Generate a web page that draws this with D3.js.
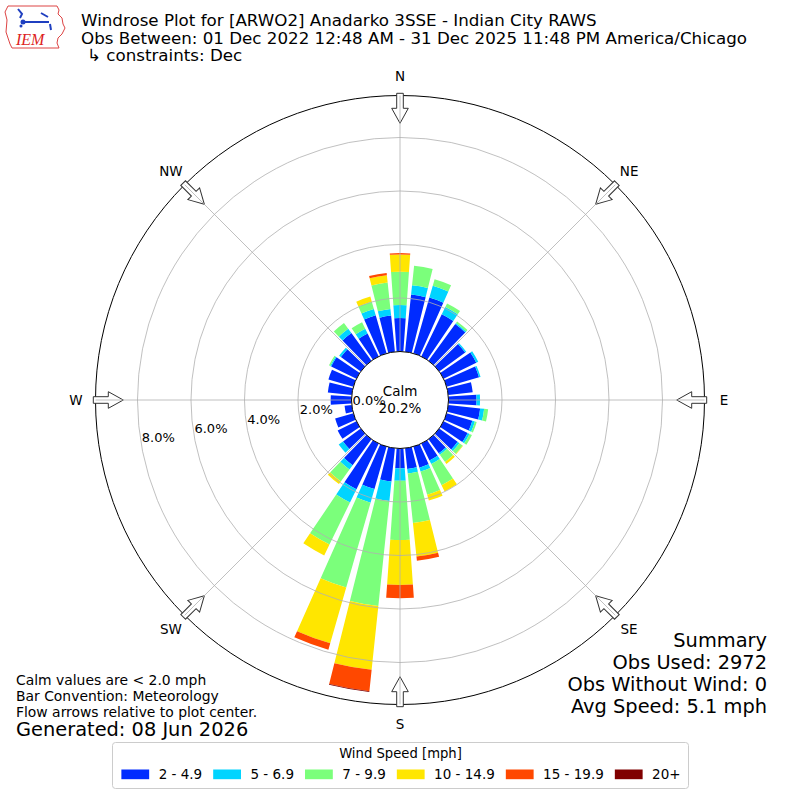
<!DOCTYPE html>
<html lang="en">
<head>
<meta charset="utf-8">
<title>Windrose ARWO2</title>
<script src="https://cdn.jsdelivr.net/npm/d3@7"></script>
<style>
  body { margin: 0; background: #fff; }
  svg { font-family: "DejaVu Sans", sans-serif; }
</style>
</head>
<body>
<script>
// direction bins (degrees, met convention) and speed bins
var directions = [0,10,20,30,40,50,60,70,80,90,100,110,120,130,140,150,160,170,
                  180,190,200,210,220,230,240,250,260,270,280,290,300,310,320,330,340,350];
var speedLabels = ["2 - 4.9", "5 - 6.9", "7 - 9.9", "10 - 14.9", "15 - 19.9", "20+"];
var speedColors = ["#002bff", "#00d4ff", "#7bff7b", "#ffe600", "#ff4800", "#800000"];

// percent of obs per direction, one array per speed bin
var pct2to5   = [1.25,2.15,2.17,1.75,1.70,1.20,1.36,1.26,0.92,1.05,1.20,1.00,1.00,0.85,0.65,0.70,0.82,0.78,
                 0.74,1.25,1.65,1.90,1.20,0.82,0.78,0.71,0.27,0.78,0.90,0.97,1.05,0.92,1.28,0.95,1.48,1.36];
var pct5to7   = [0.49,0.35,0.46,0.30,0.05,0.05,0.08,0.06,0.00,0.13,0.15,0.10,0.08,0.08,0.07,0.15,0.15,0.17,
                 0.47,0.73,0.53,0.55,0.20,0.20,0.00,0.00,0.00,0.00,0.00,0.00,0.04,0.08,0.20,0.20,0.25,0.25];
var pct7to10  = [1.24,0.73,0.25,0.15,0.07,0.00,0.00,0.00,0.00,0.00,0.15,0.07,0.10,0.15,0.33,0.88,0.90,1.86,
                 2.21,3.95,3.30,1.75,0.55,0.00,0.00,0.00,0.00,0.00,0.00,0.00,0.05,0.00,0.27,0.27,0.28,0.99];
var pct10to15 = [0.65,0,0,0,0,0,0,0,0,0,0,0,0,0.02,0.09,0.26,0.23,1.26,
                 1.68,2.40,2.17,0.45,0.12,0,0,0,0,0,0,0,0,0,0,0,0.20,0.28];
var pct15to20 = [0.05,0,0,0,0,0,0,0,0,0,0,0,0,0,0,0,0,0.16,
                 0.50,0.80,0.25,0,0,0,0,0,0,0,0,0,0,0,0,0,0,0.08];
var pct20up   = [0,0,0,0,0,0,0,0,0,0,0,0,0,0,0,0,0,0,
                 0,0.03,0,0,0,0,0,0,0,0,0,0,0,0,0,0,0,0];

var ringTicks = [0, 2, 4, 6, 8];
var compass = ["N", "NE", "E", "SE", "S", "SW", "W", "NW"];
var calmPct = "20.2%";

var width = 800, height = 800, cx = 400, cy = 400;
var rad = Math.PI / 180;

var svg = d3.select("body").append("svg")
  .attr("width", width).attr("height", height);

// radial scale, 0% sits on the calm circle
var r = d3.scaleLinear().domain([0, 9.57]).range([48.5, 304.5]);

// stack the speed bins per direction
var keys = ["b0","b1","b2","b3","b4","b5"];
var series = [pct2to5, pct5to7, pct7to10, pct10to15, pct15to20, pct20up];
var rows = directions.map(function(d, i) {
  var o = { dir: d };
  keys.forEach(function(k, j) { o[k] = series[j][i]; });
  return o;
});
var stacked = d3.stack().keys(keys)(rows);

var halfW = 4 * rad;
var arc = d3.arc()
  .innerRadius(function(d) { return r(d[0]); })
  .outerRadius(function(d) { return r(d[1]); })
  .startAngle(function(d) { return d.data.dir * rad - halfW; })
  .endAngle(function(d) { return d.data.dir * rad + halfW; });

var plot = svg.append("g").attr("transform", "translate(" + cx + "," + cy + ")");

plot.append("g").attr("class", "bars")
  .selectAll("g")
  .data(stacked)
  .enter().append("g")
  .attr("fill", function(d, i) { return speedColors[i]; })
  .selectAll("path")
  .data(function(d) { return d.filter(function(s) { return s[1] - s[0] > 0; }); })
  .enter().append("path")
  .attr("d", arc);

// rings
plot.append("g").selectAll("circle")
  .data(ringTicks.slice(1))
  .enter().append("circle")
  .attr("r", function(d) { return r(d); })
  .attr("fill", "none")
  .attr("stroke", "#b0b0b0")
  .attr("stroke-width", 0.8);

// outer frame
plot.append("circle")
  .attr("r", r(9.57))
  .attr("fill", "none")
  .attr("stroke", "#000")
  .attr("stroke-width", 1);

// flow arrows pointing to the center
var R0 = 306.7, R1 = 291.7, R2 = 276.7;
var arrowPts = [[-3.3,-R0],[3.3,-R0],[3.3,-R1],[8.3,-R1],[0,-R2],[-8.3,-R1],[-3.3,-R1]];
plot.append("g").selectAll("polygon")
  .data(compass)
  .enter().append("polygon")
  .attr("points", arrowPts.map(function(p) { return p.join(","); }).join(" "))
  .attr("transform", function(d, i) { return "rotate(" + (i * 45) + ")"; })
  .attr("fill", "#fff")
  .attr("stroke", "#333")
  .attr("stroke-width", 1);

// radial grid lines
plot.append("g").selectAll("line")
  .data(compass)
  .enter().append("line")
  .attr("x1", 0).attr("y1", 0)
  .attr("x2", function(d, i) { return r(9.57) * Math.sin(i * 45 * rad); })
  .attr("y2", function(d, i) { return -r(9.57) * Math.cos(i * 45 * rad); })
  .attr("stroke", "#b0b0b0")
  .attr("stroke-width", 0.8);

// calm circle
plot.append("circle")
  .attr("r", r(0))
  .attr("fill", "#fff")
  .attr("stroke", "#000")
  .attr("stroke-width", 1);

plot.append("text").attr("x", 0).attr("y", -4)
  .attr("text-anchor", "middle").attr("font-size", 13.5).text("Calm");
plot.append("text").attr("x", 0).attr("y", 12.5)
  .attr("text-anchor", "middle").attr("font-size", 13.5).text(calmPct);

// percent labels along the 260 deg ray
var la = 260 * rad;
plot.append("g").selectAll("text")
  .data(ringTicks)
  .enter().append("text")
  .attr("x", function(d) { return r(d) * Math.sin(la) + 16.8; })
  .attr("y", function(d) { return -r(d) * Math.cos(la) - 7.9; })
  .attr("dy", "0.35em")
  .attr("text-anchor", "middle")
  .attr("font-size", 13)
  .text(function(d) { return d.toFixed(1) + "%"; });

// compass labels
plot.append("g").selectAll("text")
  .data(compass)
  .enter().append("text")
  .attr("x", function(d, i) { return 324 * Math.sin(i * 45 * rad); })
  .attr("y", function(d, i) { return -324 * Math.cos(i * 45 * rad); })
  .attr("dy", "0.35em")
  .attr("text-anchor", "middle")
  .attr("font-size", 13.5)
  .text(function(d) { return d; });

// title block
var title = svg.append("g").attr("font-size", 16.7);
title.append("text").attr("x", 81).attr("y", 26)
  .text("Windrose Plot for [ARWO2] Anadarko 3SSE - Indian City RAWS");
title.append("text").attr("x", 81).attr("y", 44)
  .text("Obs Between: 01 Dec 2022 12:48 AM - 31 Dec 2025 11:48 PM America/Chicago");
title.append("text").attr("x", 87).attr("y", 61)
  .text("\u21b3 constraints: Dec");

// IEM logo (rough)
var logo = svg.append("g");
logo.append("path")
  .attr("d", "M8,6 L57,6 L59,10 L58,14 L62,18 L63,24 L65,28 L62,34 L58,38 L57,43 L59,48 L12,48 L10,44 L8,38 L6,32 L7,20 L5,12 Z")
  .attr("fill", "none").attr("stroke", "#d44").attr("stroke-width", 1);
logo.append("path")
  .attr("d", "M18,9 L22,14 L20,18 M25,22 L49,22 M41,13 L48,17 M50,24 L51,30")
  .attr("fill", "none").attr("stroke", "#1f3fc0").attr("stroke-width", 2);
logo.append("circle").attr("cx", 23).attr("cy", 22).attr("r", 2.5).attr("fill", "#1f3fc0");
logo.append("circle").attr("cx", 21).attr("cy", 26).attr("r", 1.5).attr("fill", "#1f3fc0");
logo.append("text").attr("x", 16).attr("y", 45)
  .attr("font-family", "'Liberation Serif', serif").attr("font-style", "italic")
  .attr("font-size", 16).attr("fill", "#d22").text("IEM");

// notes bottom left
var notes = svg.append("g").attr("font-size", 13.9);
notes.append("text").attr("x", 16).attr("y", 685).text("Calm values are < 2.0 mph");
notes.append("text").attr("x", 16).attr("y", 701).text("Bar Convention: Meteorology");
notes.append("text").attr("x", 16).attr("y", 717).text("Flow arrows relative to plot center.");
svg.append("text").attr("x", 16).attr("y", 736).attr("font-size", 19.4)
  .text("Generated: 08 Jun 2026");

// summary bottom right
var summary = ["Summary", "Obs Used: 2972", "Obs Without Wind: 0", "Avg Speed: 5.1 mph"];
svg.append("g").selectAll("text")
  .data(summary)
  .enter().append("text")
  .attr("x", 767)
  .attr("y", function(d, i) { return 647 + i * 22; })
  .attr("text-anchor", "end")
  .attr("font-size", 19.4)
  .text(function(d) { return d; });

// legend
var leg = svg.append("g");
leg.append("rect")
  .attr("x", 112.5).attr("y", 742.5).attr("width", 576).attr("height", 46)
  .attr("rx", 3).attr("fill", "#fff").attr("stroke", "#ccc");
leg.append("text").attr("x", 400.5).attr("y", 758)
  .attr("text-anchor", "middle").attr("font-size", 13.2).text("Wind Speed [mph]");

var items = leg.append("g");
var xpos = 0;
speedLabels.forEach(function(lab, i) {
  items.append("rect").attr("x", xpos).attr("y", 769.5)
    .attr("width", 27.8).attr("height", 9.7).attr("fill", speedColors[i]);
  var t = items.append("text").attr("x", xpos + 37.3).attr("y", 779)
    .attr("font-size", 13.5).text(lab);
  xpos = xpos + 37.3 + t.node().getComputedTextLength() + 11;
});
var total = xpos - 11;
items.attr("transform", "translate(" + (401 - total / 2) + ",0)");
</script>
</body>
</html>
